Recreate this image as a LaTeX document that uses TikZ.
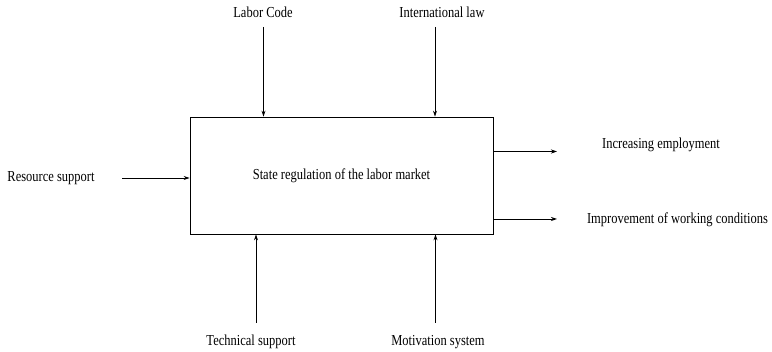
\documentclass[tikz,border=0pt]{standalone}
\usepackage{fontspec}
\setmainfont{Liberation Serif}
\usetikzlibrary{arrows.meta}
\newcommand{\vtxt}[1]{\scalebox{1}[1.22]{#1}}
\begin{document}
\begin{tikzpicture}[x=1pt,y=-1pt,
  lbl/.style={inner sep=0pt, font=\fontsize{12.5}{15}\selectfont},
  arr/.style={-{Stealth[length=6pt,width=4pt]}, line width=0.8pt},
  mainbox/.style={draw, line width=0.8pt, minimum width=303pt, minimum height=117pt, inner sep=0pt}]
\useasboundingbox (0,0) rectangle (772,352);
\node[mainbox, lbl] (box) at (341.5,175.5) {\vtxt{State regulation of the labor market}};
\node[lbl] (lc) at (263,12) {\vtxt{Labor Code}};
\node[lbl] (il) at (442,12) {\vtxt{International law}};
\node[lbl] (rs) at (51,178) {\vtxt{Resource support}};
\node[lbl] (ie) at (661,145) {\vtxt{Increasing employment}};
\node[lbl] (iw) at (677.5,219.5) {\vtxt{Improvement of working conditions}};
\node[lbl] (ts) at (251,342) {\vtxt{Technical support}};
\node[lbl] (ms) at (438,342) {\vtxt{Motivation system}};
\coordinate (lcs) at (263.5,27);
\coordinate (ils) at (435,27);
\coordinate (rss) at (122,178);
\coordinate (iee) at (557,151.5);
\coordinate (iwe) at (557,219);
\coordinate (tss) at (256,323);
\coordinate (mss) at (435.5,323);
\draw[arr] (lcs) -- (lcs |- box.north);
\draw[arr] (ils) -- (ils |- box.north);
\draw[arr] (rss) -- (rss -| box.west);
\draw[arr] (iee -| box.east) -- (iee);
\draw[arr] (iwe -| box.east) -- (iwe);
\draw[arr] (tss) -- (tss |- box.south);
\draw[arr] (mss) -- (mss |- box.south);
\end{tikzpicture}
\end{document}
